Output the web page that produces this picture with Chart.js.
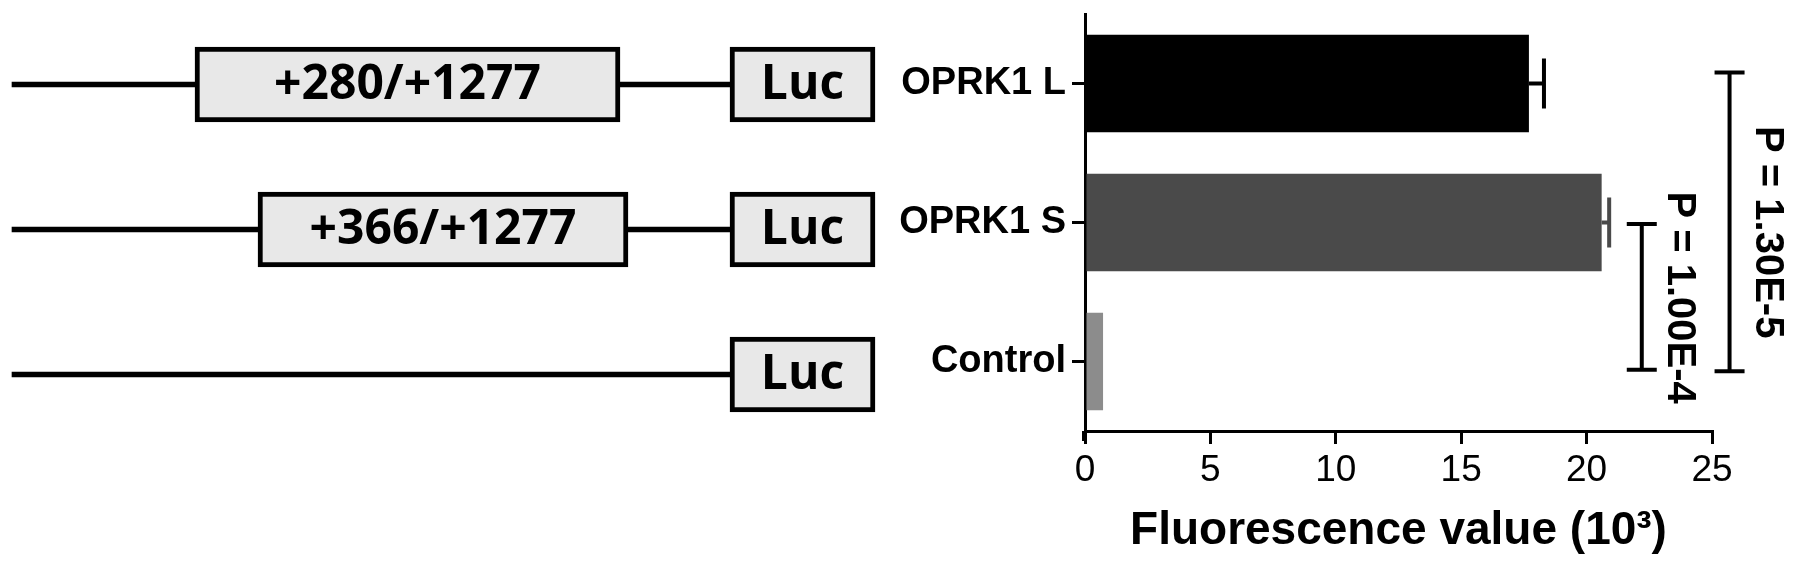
<!DOCTYPE html>
<html>
<head>
<meta charset="utf-8">
<script src="https://cdn.jsdelivr.net/npm/chart.js@4.4.1/dist/chart.umd.min.js"></script>
<style>
  html, body { margin: 0; padding: 0; background: #fff; }
  #wrap { position: relative; width: 1795px; height: 568px; overflow: hidden; }
  #diagram { position: absolute; left: 0; top: 0; }
  #graph { position: absolute; left: 900px; top: 0; }
</style>
</head>
<body>
<div id="wrap">
  <canvas id="diagram" width="900" height="568"></canvas>
  <canvas id="graph" width="895" height="568"></canvas>
</div>
<script>
// constructs (schematic, diagram units)
const rows = ["OPRK1 L", "OPRK1 S", "Control"]
const backbone = [[12, 730], [12, 730], [12, 730]]
const inserts = [[195, 620], [258, 628], null]
const insertLabels = ["+280/+1277", "+366/+1277", ""]
const lucBoxes = [[730, 875], [730, 875], [730, 875]]
const lucLabels = ["Luc", "Luc", "Luc"]

// fluorescence (10^3)
const categories = ["OPRK1 L", "OPRK1 S", "Control"]
const values = [17.7, 20.6, 0.72]
const errors = [0.6, 0.3, 0]
const barColors = ["#000000", "#4a4a4a", "#8c8c8c"]
const xTicks = [0, 5, 10, 15, 20, 25]

// significance brackets: category span (index units), x position (value units), label
const sigSpans = [[-0.08, 2.07], [1.01, 2.06]]
const sigX = [25.7, 22.2]
const sigLabelY = [1.07, 1.54]
const sigLabels = ["P = 1.30E-5", "P = 1.00E-4"]

const boxText = {
    id: "boxText",
    afterDatasetsDraw(chart) {
        const ctx = chart.ctx
        ctx.save()
        ctx.fillStyle = "#000"
        ctx.font = "bold 48px 'Open Sans'"
        ctx.textAlign = "center"
        ctx.textBaseline = "middle"
        const draw = (dsIndex, labels) => {
            chart.getDatasetMeta(dsIndex).data.forEach((el, i) => {
                if (!labels[i]) return
                ctx.fillText(labels[i], (el.x + el.base) / 2, el.y + 1)
            })
        }
        draw(0, lucLabels)
        draw(1, insertLabels)
        ctx.restore()
    }
}

new Chart(document.getElementById("diagram"), {
    type: "bar",
    data: {
        labels: rows,
        datasets: [{
            data: lucBoxes,
            backgroundColor: "#e8e8e8",
            borderColor: "#000",
            borderWidth: 5,
            borderSkipped: false,
            barThickness: 75,
            grouped: false
        }, {
            data: inserts,
            backgroundColor: "#e8e8e8",
            borderColor: "#000",
            borderWidth: 5,
            borderSkipped: false,
            barThickness: 75,
            grouped: false
        }, {
            data: backbone,
            backgroundColor: "#000",
            borderWidth: 0,
            barThickness: 5,
            grouped: false
        }]
    },
    options: {
        indexAxis: "y",
        responsive: false,
        animation: false,
        layout: { padding: { top: 12, bottom: 121, left: 0, right: 0 } },
        plugins: { legend: { display: false }, tooltip: { enabled: false } },
        scales: {
            x: { type: "linear", min: 0, max: 900, display: false },
            y: { display: false }
        }
    },
    plugins: [boxText]
})

const extras = {
    id: "extras",
    afterDatasetsDraw(chart) {
        const ctx = chart.ctx
        const xs = chart.scales.x
        const ys = chart.scales.y
        const area = chart.chartArea
        ctx.save()
        // y axis runs a little past the x axis
        ctx.strokeStyle = "#000"
        ctx.lineWidth = 3
        ctx.beginPath()
        ctx.moveTo(area.left - 1.5, area.bottom)
        ctx.lineTo(area.left - 1.5, area.bottom + 10)
        ctx.stroke()

        ctx.lineWidth = 4
        ctx.lineCap = "butt"
        // error bars
        values.forEach((v, i) => {
            if (!errors[i]) return
            const y = ys.getPixelForValue(i)
            const x0 = xs.getPixelForValue(v)
            const x1 = xs.getPixelForValue(v + errors[i])
            ctx.strokeStyle = barColors[i]
            ctx.beginPath()
            ctx.moveTo(x0, y)
            ctx.lineTo(x1, y)
            ctx.moveTo(x1, y - 25)
            ctx.lineTo(x1, y + 25)
            ctx.stroke()
        })
        // brackets
        ctx.strokeStyle = "#000"
        ctx.fillStyle = "#000"
        ctx.font = "bold 40px 'Liberation Sans', Arial"
        ctx.textAlign = "center"
        ctx.textBaseline = "middle"
        sigSpans.forEach((span, i) => {
            const x = xs.getPixelForValue(sigX[i])
            const y0 = ys.getPixelForValue(span[0])
            const y1 = ys.getPixelForValue(span[1])
            ctx.beginPath()
            ctx.moveTo(x, y0)
            ctx.lineTo(x, y1)
            ctx.moveTo(x - 15, y0)
            ctx.lineTo(x + 15, y0)
            ctx.moveTo(x - 15, y1)
            ctx.lineTo(x + 15, y1)
            ctx.stroke()
            ctx.save()
            ctx.translate(x + 37, ys.getPixelForValue(sigLabelY[i]))
            ctx.rotate(Math.PI / 2)
            ctx.fillText(sigLabels[i], 0, 0)
            ctx.restore()
        })
        ctx.restore()
    }
}

new Chart(document.getElementById("graph"), {
    type: "bar",
    data: {
        labels: categories,
        datasets: [{
            label: "Fluorescence",
            data: values,
            backgroundColor: barColors,
            borderWidth: 0,
            barPercentage: 0.7,
            categoryPercentage: 1.0
        }]
    },
    options: {
        indexAxis: "y",
        responsive: false,
        animation: false,
        layout: { padding: { top: 14, right: 83, left: 0, bottom: 0 } },
        plugins: { legend: { display: false }, tooltip: { enabled: false } },
        scales: {
            x: {
                min: 0,
                max: 25,
                afterBuildTicks: s => { s.ticks = xTicks.map(v => ({ value: v })) },
                afterFit: s => {
                    s.height = 137
                    s.paddingLeft = 0
                    s.paddingRight = 0
                },
                ticks: {
                    color: "#000",
                    padding: 5,
                    maxRotation: 0,
                    font: { family: "'Liberation Sans', Arial", size: 37 }
                },
                grid: { drawOnChartArea: false, tickLength: 13, lineWidth: 3, color: "#000" },
                border: { color: "#000", width: 3 },
                title: {
                    display: true,
                    text: "Fluorescence value (10³)",
                    color: "#000",
                    padding: { top: 0, bottom: 9 },
                    font: { family: "'Liberation Sans', Arial", size: 46, weight: "bold" }
                }
            },
            y: {
                afterFit: s => {
                    s.width = 185
                    s.paddingTop = 0
                    s.paddingBottom = 0
                },
                ticks: {
                    color: "#000",
                    padding: 6,
                    font: { family: "'Liberation Sans', Arial", size: 38, weight: "bold" }
                },
                grid: { drawOnChartArea: false, offset: false, tickLength: 13, lineWidth: 3, color: "#000" },
                border: { color: "#000", width: 3 }
            }
        }
    },
    plugins: [extras]
})
</script>
</body>
</html>
